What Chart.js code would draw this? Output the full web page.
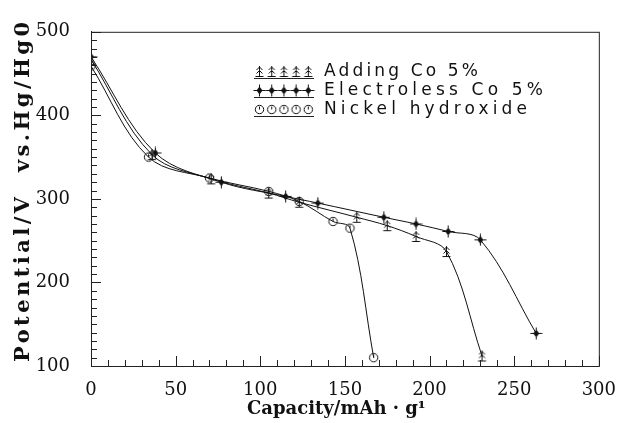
<!DOCTYPE html>
<html>
<head>
<meta charset="utf-8">
<script src="https://cdn.jsdelivr.net/npm/chart.js@4.4.1/dist/chart.umd.min.js"></script>
<style>
  html, body { margin: 0; padding: 0; background: #fff; }
  #wrap { width: 630px; height: 423px; }
</style>
</head>
<body>
<div id="wrap"><canvas id="chart" width="630" height="423"></canvas></div>
<script>
// data
const seriesNames = ['Adding Co 5%', 'Electroless Co 5%', 'Nickel hydroxide'];
const addingCap = [0, 36, 71, 105, 123, 157, 175, 192, 210, 231];
const addingPot = [467, 353, 324, 307, 296, 278, 268, 255, 237, 112];
const electrolessCap = [0, 38, 77, 115, 134, 173, 192, 211, 230, 263];
const electrolessPot = [470, 355, 320, 303, 295, 278, 270, 261, 251, 139];
const nickelCap = [0, 34, 70, 105, 123, 143, 153, 167];
const nickelPot = [459, 350, 325, 309, 297, 273, 265, 110];
const xTicks = [0, 50, 100, 150, 200, 250, 300];
const yTicks = [100, 200, 300, 400, 500];
const xTitle = 'Capacity/mAh \u00b7 g\u00b9';
const yTitle = 'Potential/V  vs.Hg/Hg0';

const ink = '#111';

function toPoints(xs, ys) {
  return xs.map((x, i) => ({ x: x, y: ys[i] }));
}

// marker glyphs drawn on small canvases
function makeMarker(kind) {
  const c = document.createElement('canvas');
  c.width = 13; c.height = 13;
  const g = c.getContext('2d');
  g.strokeStyle = ink; g.fillStyle = ink; g.lineWidth = 1;
  g.beginPath();
  if (kind === 'tree') {
    g.moveTo(6.5, 1); g.lineTo(6.5, 11);
    g.moveTo(3.5, 5); g.lineTo(6.5, 2); g.lineTo(9.5, 5);
    g.moveTo(3.5, 8.5); g.lineTo(6.5, 5.5); g.lineTo(9.5, 8.5);
    g.moveTo(2.5, 11.5); g.lineTo(10.5, 11.5);
    g.stroke();
  } else if (kind === 'star') {
    g.moveTo(6.5, 2.5); g.lineTo(9.5, 6.5); g.lineTo(6.5, 10.5); g.lineTo(3.5, 6.5);
    g.closePath(); g.fill();
    g.beginPath();
    g.moveTo(0.5, 6.5); g.lineTo(12.5, 6.5);
    g.moveTo(6.5, 0.5); g.lineTo(6.5, 12.5);
    g.stroke();
  } else {
    g.arc(6.5, 6.5, 4.2, 0, Math.PI * 2);
    g.stroke();
    g.beginPath();
    g.moveTo(6.5, 3.5); g.lineTo(6.5, 6.5);
    g.stroke();
  }
  return c;
}

const markers = [makeMarker('tree'), makeMarker('star'), makeMarker('circle')];

function fitText(ctx, text, x, y, width) {
  ctx.letterSpacing = '0px';
  const w = ctx.measureText(text).width;
  const sp = Math.max(0, (width - w) / (text.length - 1));
  ctx.letterSpacing = sp + 'px';
  ctx.fillText(text, x, y);
  ctx.letterSpacing = '0px';
}

const framePlugin = {
  id: 'frame',
  afterDraw(chart) {
    const ctx = chart.ctx;
    const a = chart.chartArea;
    const xs = chart.scales.x, ys = chart.scales.y;
    ctx.save();
    ctx.strokeStyle = '#222';
    ctx.lineWidth = 1;
    ctx.strokeRect(a.left + 0.5, a.top + 0.5, a.right - a.left, a.bottom - a.top);
    // inward ticks
    ctx.beginPath();
    for (let v = 100; v <= 500; v += 10) {
      const py = Math.round(ys.getPixelForValue(v)) + 0.5;
      const len = v % 100 === 0 ? 10 : 6;
      ctx.moveTo(a.left, py); ctx.lineTo(a.left + len, py);
    }
    for (let v = 0; v <= 300; v += 10) {
      const px = Math.round(xs.getPixelForValue(v)) + 0.5;
      const len = v % 50 === 0 ? 10 : 6;
      ctx.moveTo(px, a.bottom); ctx.lineTo(px, a.bottom - len);
    }
    ctx.stroke();

    // axis titles
    ctx.fillStyle = ink;
    ctx.font = 'bold 21px "DejaVu Serif"';
    ctx.textBaseline = 'middle';
    ctx.textAlign = 'left';
    ctx.save();
    ctx.translate(24, 362);
    ctx.rotate(-Math.PI / 2);
    fitText(ctx, yTitle, 0, 0, 340);
    ctx.restore();
    ctx.font = 'bold 18px "DejaVu Serif"';
    fitText(ctx, xTitle, 247, 409, 168);

    // legend
    ctx.font = '17px "DejaVu Sans"';
    const widths = [154, 219, 203];
    seriesNames.forEach((name, i) => {
      const ry = 72 + i * 19;
      for (let k = 0; k < 5; k++) {
        ctx.drawImage(markers[i], 253 + k * 12.2, ry - 7);
      }
      ctx.beginPath();
      ctx.moveTo(254, ry + 6.5); ctx.lineTo(314, ry + 6.5);
      ctx.stroke();
      fitText(ctx, name, 324, ry, widths[i]);
    });
    ctx.restore();
  }
};

function series(label, xs, ys, marker) {
  return {
    label: label,
    data: toPoints(xs, ys),
    borderColor: ink,
    backgroundColor: ink,
    borderWidth: 1,
    pointStyle: marker,
    pointRadius: 5,
    tension: 0.35,
    fill: false
  };
}

const tickFont = { family: '"DejaVu Serif"', size: 18 };

new Chart(document.getElementById('chart'), {
  type: 'line',
  data: {
    datasets: [
      series(seriesNames[0], addingCap, addingPot, markers[0]),
      series(seriesNames[1], electrolessCap, electrolessPot, markers[1]),
      series(seriesNames[2], nickelCap, nickelPot, markers[2])
    ]
  },
  options: {
    responsive: false,
    animation: false,
    layout: { padding: { top: 19, right: 19, left: 0, bottom: 0 } },
    plugins: { legend: { display: false }, tooltip: { enabled: false } },
    scales: {
      x: {
        type: 'linear', min: 0, max: 300,
        afterFit: s => { s.height = 57; },
        afterBuildTicks: s => { s.ticks = xTicks.map(v => ({ value: v })); },
        grid: { display: false, drawTicks: false },
        border: { display: true, color: '#222' },
        ticks: { color: ink, font: tickFont, padding: 14, maxRotation: 0 }
      },
      y: {
        type: 'linear', min: 100, max: 500,
        afterFit: s => { s.width = 91; },
        afterBuildTicks: s => { s.ticks = yTicks.map(v => ({ value: v })); },
        grid: { display: false, drawTicks: false },
        border: { display: true, color: '#222' },
        ticks: { color: ink, font: tickFont, padding: 21 }
      }
    }
  },
  plugins: [framePlugin]
});
</script>
</body>
</html>
